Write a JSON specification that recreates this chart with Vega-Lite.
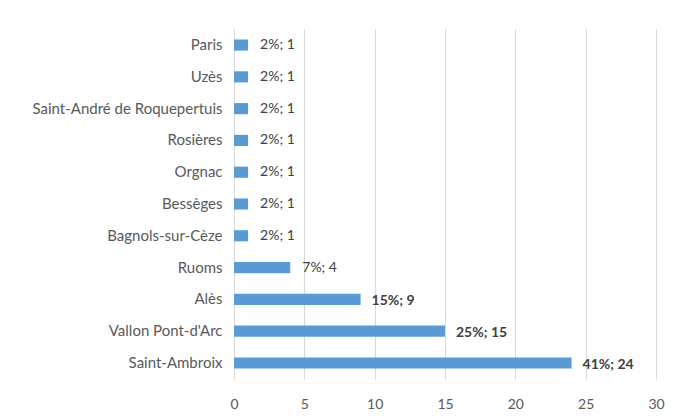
{
  "$schema": "https://vega.github.io/schema/vega-lite/v6.json",
  "width": 422,
  "height": 350,
  "autosize": {"type": "none"},
  "padding": {"left": 234, "top": 29, "right": 29, "bottom": 40},
  "background": "white",
  "config": {"view": {"stroke": null}, "font": "Lato"},
  "data": {
    "values": [
      {"ville": "Paris", "n": 1, "label": "2%; 1"},
      {"ville": "Uzès", "n": 1, "label": "2%; 1"},
      {"ville": "Saint-André de Roquepertuis", "n": 1, "label": "2%; 1"},
      {"ville": "Rosières", "n": 1, "label": "2%; 1"},
      {"ville": "Orgnac", "n": 1, "label": "2%; 1"},
      {"ville": "Bessèges", "n": 1, "label": "2%; 1"},
      {"ville": "Bagnols-sur-Cèze", "n": 1, "label": "2%; 1"},
      {"ville": "Ruoms", "n": 4, "label": "7%; 4"},
      {"ville": "Alès", "n": 9, "label": "15%; 9"},
      {"ville": "Vallon Pont-d'Arc", "n": 15, "label": "25%; 15"},
      {"ville": "Saint-Ambroix", "n": 24, "label": "41%; 24"}
    ]
  },
  "encoding": {
    "y": {
      "field": "ville", "type": "nominal", "sort": null,
      "scale": {"paddingInner": 0.65, "paddingOuter": 0.33},
      "axis": {"title": null, "ticks": false, "domain": false, "labelPadding": 12, "labelFontSize": 15, "labelColor": "#595959", "labelLimit": 300}
    },
    "x": {
      "field": "n", "type": "quantitative",
      "scale": {"domain": [0, 30], "nice": false},
      "axis": {"title": null, "values": [0, 5, 10, 15, 20, 25, 30], "ticks": false, "domain": false, "labelPadding": 18, "labelFontSize": 14, "labelColor": "#595959", "gridColor": "#d9d9d9", "labelFlush": false}
    }
  },
  "layer": [
    {"mark": {"type": "bar", "color": "#5B9BD5"}},
    {
      "transform": [{"filter": "datum.n < 5"}],
      "mark": {"type": "text", "align": "left", "dx": 12, "fontSize": 14, "color": "#404040"},
      "encoding": {"text": {"field": "label"}}
    },
    {
      "transform": [{"filter": "datum.n >= 5"}],
      "mark": {"type": "text", "align": "left", "dx": 11, "dy": 2, "fontSize": 14, "fontWeight": "bold", "color": "#404040"},
      "encoding": {"text": {"field": "label"}}
    }
  ]
}
